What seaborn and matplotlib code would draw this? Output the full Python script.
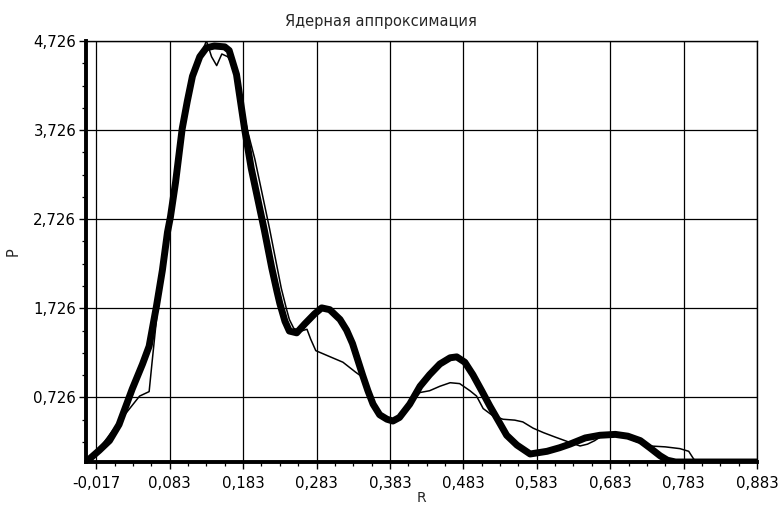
import matplotlib
matplotlib.use("Agg")
import matplotlib.pyplot as plt
from matplotlib.ticker import FixedLocator, FuncFormatter
import seaborn as sns
import pandas as pd

# ---- data ----
title = "Ядерная аппроксимация"
x_label = "R"
y_label = "P"

x_ticks = [-0.017, 0.083, 0.183, 0.283, 0.383, 0.483, 0.583, 0.683, 0.783, 0.883]
y_ticks = [0.726, 1.726, 2.726, 3.726, 4.726]

# thick curve: kernel approximation
kernel_r = [-0.031, -0.013, 0.001, 0.014, 0.032, 0.046, 0.055, 0.065, 0.073, 0.080,
            0.084, 0.091, 0.100, 0.107, 0.114, 0.124, 0.133, 0.144, 0.158, 0.164,
            0.174, 0.185, 0.194, 0.203, 0.212, 0.222, 0.229, 0.233, 0.240, 0.246,
            0.256, 0.267, 0.280, 0.290, 0.301, 0.315, 0.324, 0.332, 0.339, 0.346,
            0.353, 0.360, 0.369, 0.379, 0.387, 0.396, 0.410, 0.424, 0.437, 0.451,
            0.465, 0.474, 0.485, 0.496, 0.508, 0.519, 0.533, 0.542, 0.556, 0.574,
            0.597, 0.614, 0.628, 0.649, 0.669, 0.690, 0.707, 0.724, 0.737, 0.751,
            0.761, 0.772, 0.883]
kernel_p = [0.00, 0.13, 0.24, 0.42, 0.82, 1.10, 1.30, 1.75, 2.15, 2.58,
            2.75, 3.14, 3.74, 4.05, 4.33, 4.55, 4.65, 4.67, 4.66, 4.62,
            4.35, 3.74, 3.30, 2.95, 2.60, 2.18, 1.92, 1.78, 1.58, 1.47,
            1.45, 1.55, 1.66, 1.73, 1.71, 1.60, 1.48, 1.33, 1.15, 0.97,
            0.80, 0.65, 0.53, 0.48, 0.46, 0.50, 0.65, 0.85, 0.98, 1.10,
            1.17, 1.18, 1.12, 0.98, 0.80, 0.63, 0.43, 0.30, 0.19, 0.09,
            0.12, 0.16, 0.20, 0.27, 0.30, 0.31, 0.29, 0.24, 0.16, 0.07,
            0.02, 0.00, 0.00]

# thin curve: empirical density
emp_r = [-0.031, -0.013, 0.014, 0.042, 0.055, 0.059, 0.065, 0.073, 0.080, 0.091,
         0.100, 0.107, 0.117, 0.124, 0.133, 0.140, 0.147, 0.154, 0.162, 0.169,
         0.178, 0.189, 0.199, 0.208, 0.219, 0.229, 0.235, 0.242, 0.246, 0.252,
         0.262, 0.270, 0.275, 0.282, 0.299, 0.319, 0.336, 0.346,
         0.353, 0.360, 0.369, 0.379, 0.387, 0.403, 0.424, 0.437, 0.451, 0.465,
         0.478, 0.492, 0.501, 0.510, 0.523, 0.537, 0.553, 0.564, 0.578, 0.592,
         0.608, 0.628, 0.642, 0.652, 0.662, 0.669, 0.690, 0.707, 0.724, 0.737,
         0.758, 0.778, 0.790, 0.797, 0.804, 0.883]
emp_p = [0.00, 0.15, 0.45, 0.74, 0.79, 1.12, 1.60, 2.15, 2.60, 3.15,
         3.75, 4.10, 4.35, 4.52, 4.73, 4.55, 4.45, 4.58, 4.55, 4.45,
         4.15, 3.72, 3.40, 3.05, 2.62, 2.20, 1.95, 1.72, 1.60, 1.50,
         1.47, 1.49, 1.38, 1.25, 1.19, 1.12, 1.01, 0.95,
         0.80, 0.65, 0.53, 0.48, 0.46, 0.58, 0.78, 0.80, 0.85, 0.89,
         0.88, 0.80, 0.74, 0.60, 0.52, 0.48, 0.47, 0.45, 0.38, 0.33,
         0.28, 0.22, 0.18, 0.20, 0.24, 0.28, 0.30, 0.27, 0.21, 0.18,
         0.17, 0.15, 0.12, 0.03, 0.00, 0.00]

x_range = (-0.031, 0.883)
y_range = (0.0, 4.726)

# ---- plotting ----
sns.set_style("white")
plt.rcParams["font.family"] = ["DejaVu Sans"]
plt.rcParams["axes.unicode_minus"] = False

fig = plt.figure(figsize=(7.82, 5.05), dpi=100)
ax = fig.add_axes([86 / 782, 1 - 462 / 505, (757 - 86) / 782, (462 - 41) / 505])

df_k = pd.DataFrame({"R": kernel_r, "P": kernel_p})
df_e = pd.DataFrame({"R": emp_r, "P": emp_p})

sns.lineplot(data=df_e, x="R", y="P", ax=ax, color="black", linewidth=1.1,
             sort=False, estimator=None, zorder=3)
sns.lineplot(data=df_k, x="R", y="P", ax=ax, color="black", linewidth=5.0,
             sort=False, estimator=None, zorder=4, solid_capstyle="round",
             solid_joinstyle="round")

ax.set_xlim(*x_range)
ax.set_ylim(*y_range)

ax.xaxis.set_major_locator(FixedLocator(x_ticks))
ax.yaxis.set_major_locator(FixedLocator(y_ticks))
ax.xaxis.set_minor_locator(FixedLocator(
    [t + k * 0.025 for t in x_ticks[:-1] for k in (1, 2, 3)]))
ax.yaxis.set_minor_locator(FixedLocator(
    [t - k * 0.25 for t in y_ticks for k in (1, 2, 3) if t - k * 0.25 > 0.05]))

fmt = FuncFormatter(lambda v, p: f"{v:.3f}".replace(".", ","))
ax.xaxis.set_major_formatter(fmt)
ax.yaxis.set_major_formatter(fmt)

ax.grid(True, which="major", color="black", linewidth=0.9)
ax.set_axisbelow(True)

for side in ("left", "bottom"):
    ax.spines[side].set_linewidth(2.8)
    ax.spines[side].set_color("black")
for side in ("top", "right"):
    ax.spines[side].set_linewidth(1.0)
    ax.spines[side].set_color("black")

ax.tick_params(axis="both", which="both", bottom=True, left=True, top=False, right=False)
ax.tick_params(axis="both", which="major", direction="out", length=5, width=1.0,
               color="black", labelsize=10.8, labelcolor="black")
ax.tick_params(axis="both", which="minor", direction="out", length=3, width=0.9,
               color="black")
ax.tick_params(axis="x", which="major", pad=5)
ax.tick_params(axis="y", which="major", pad=2)

ax.set_title(title, fontsize=10.5, pad=11, x=(381 - 86) / (757 - 86))
ax.set_xlabel(x_label, fontsize=10, labelpad=0)
ax.set_ylabel(y_label, fontsize=10.5, labelpad=9)

fig.savefig("out.png", dpi=100)
